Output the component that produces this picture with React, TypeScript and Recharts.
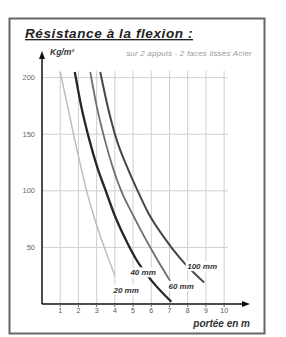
import { LineChart, Line, XAxis, YAxis, ReferenceLine, ReferenceDot } from "recharts";

// portée (m) / charge (kg/m²)
const SPAN_20 = [1.0, 1.4, 1.8, 2.15, 2.45, 2.8, 3.2, 3.65, 4.0];
const LOAD_20 = [205, 175, 145, 120, 100, 80, 60, 40, 25];

const SPAN_40 = [1.8, 2.15, 2.6, 3.05, 3.5, 3.95, 4.5, 5.15, 6.05, 7.1];
const LOAD_40 = [205, 175, 145, 120, 100, 80, 60, 40, 20, 2];

const SPAN_60 = [2.65, 3.0, 3.45, 3.9, 4.35, 4.95, 5.6, 6.3, 7.05];
const LOAD_60 = [205, 175, 145, 120, 100, 80, 60, 40, 20];

const SPAN_100 = [3.2, 3.6, 4.1, 4.7, 5.25, 5.85, 6.65, 7.6, 8.9];
const LOAD_100 = [205, 175, 145, 120, 100, 80, 60, 40, 19];

const SERIES_NAMES = ["20 mm", "40 mm", "60 mm", "100 mm"];
const X_TICKS = [1, 2, 3, 4, 5, 6, 7, 8, 9, 10];
const Y_TICKS = [50, 100, 150, 200];

const COLORS = ["#bdbdbd", "#262626", "#6e6e6e", "#474747"];
const WIDTHS = [1.5, 2.3, 1.8, 2];
// where the curve labels sit (data coords)
const LABEL_POS = [
  [4.62, 12.5],
  [5.55, 28],
  [7.64, 16],
  [8.79, 33.5],
];

const zip = (xs: number[], ys: number[]) => xs.map((d, i) => ({ d, v: ys[i] }));
const curves = [
  zip(SPAN_20, LOAD_20),
  zip(SPAN_40, LOAD_40),
  zip(SPAN_60, LOAD_60),
  zip(SPAN_100, LOAD_100),
];

const FONT = "'Liberation Sans', Arial, sans-serif";

const makeLabel = (text: string) => (props: any) => {
  const { cx, cy } = props;
  const w = text.length * 4.8 + 4;
  return (
    <g>
      <rect x={cx - w / 2} y={cy - 5} width={w} height={10} fill="#fff" />
      <text
        x={cx}
        y={cy + 3}
        textAnchor="middle"
        fontSize={8}
        fontStyle="italic"
        fontWeight="bold"
        fontFamily={FONT}
        fill="#333"
      >
        {text}
      </text>
    </g>
  );
};

const arrowRight = (props: any) => (
  <path d={`M${props.cx + 4},${props.cy} L${props.cx - 4},${props.cy - 3} L${props.cx - 4},${props.cy + 3} Z`} fill="#111" />
);
const arrowUp = (props: any) => (
  <path d={`M${props.cx},${props.cy - 4} L${props.cx - 3},${props.cy + 4} L${props.cx + 3},${props.cy + 4} Z`} fill="#111" />
);

export default function App() {
  return (
    <div style={{ position: "absolute", left: 0, top: 0, width: 286, height: 337, background: "#fff" }}>
      <LineChart
        width={286}
        height={337}
        margin={{ top: 55, right: 40, bottom: 13, left: 12 }}
      >
        <XAxis
          type="number"
          dataKey="d"
          domain={[0, 11.2]}
          ticks={X_TICKS}
          allowDataOverflow
          height={20}
          tickSize={3}
          tickMargin={1}
          tick={{ fontSize: 7, fill: "#555", fontFamily: FONT }}
          tickLine={{ stroke: "#666" }}
          axisLine={{ stroke: "#111", strokeWidth: 1.5 }}
        />
        <YAxis
          type="number"
          domain={[0, 220]}
          ticks={Y_TICKS}
          allowDataOverflow
          width={30}
          tickSize={5}
          tickMargin={2}
          tickLine={false}
          tick={{ fontSize: 7.5, fill: "#666", fontFamily: FONT }}
          axisLine={{ stroke: "#111", strokeWidth: 1.5 }}
        />
        {Y_TICKS.map((t) => (
          <ReferenceLine
            key={`h${t}`}
            segment={[
              { x: 0, y: t },
              { x: 10.2, y: t },
            ]}
            stroke="#cfcfcf"
            strokeWidth={1}
          />
        ))}
        {X_TICKS.map((t) => (
          <ReferenceLine
            key={`v${t}`}
            segment={[
              { x: t, y: 0 },
              { x: t, y: 206 },
            ]}
            stroke="#cfcfcf"
            strokeWidth={1}
          />
        ))}
        {curves.map((c, i) => (
          <Line
            key={SERIES_NAMES[i]}
            data={c}
            dataKey="v"
            type="monotone"
            stroke={COLORS[i]}
            strokeWidth={WIDTHS[i]}
            dot={false}
            isAnimationActive={false}
          />
        ))}
        {SERIES_NAMES.map((n, i) => (
          <ReferenceDot
            key={`l${n}`}
            x={LABEL_POS[i][0]}
            y={LABEL_POS[i][1]}
            ifOverflow="visible"
            shape={makeLabel(n)}
          />
        ))}
        <ReferenceDot x={11.2} y={0} ifOverflow="visible" shape={arrowRight} />
        <ReferenceDot x={0} y={220} ifOverflow="visible" shape={arrowUp} />
      </LineChart>
      <svg
        width={286}
        height={337}
        style={{ position: "absolute", left: 0, top: 0, pointerEvents: "none" }}
      >
        <rect x={9.5} y={18.5} width={255} height={315} fill="none" stroke="#666" strokeWidth={2} />
        <text
          x={25}
          y={38}
          fontSize={13.5}
          letterSpacing={0.6}
          fontWeight="bold"
          fontStyle="italic"
          fontFamily={FONT}
          textDecoration="underline"
          fill="#222"
        >
          Résistance à la flexion :
        </text>
        <text x={50} y={55} fontSize={8.5} fontWeight="bold" fontStyle="italic" fontFamily={FONT} fill="#333">
          Kg/m²
        </text>
        <text x={252} y={56} textAnchor="end" fontSize={8} letterSpacing={0.2} fontStyle="italic" fontFamily={FONT} fill="#999">
          sur 2 appuis - 2 faces lisses Acier
        </text>
        <text
          x={250}
          y={327}
          textAnchor="end"
          fontSize={10}
          fontWeight="bold"
          fontStyle="italic"
          fontFamily={FONT}
          fill="#333"
        >
          portée en m
        </text>
      </svg>
    </div>
  );
}
